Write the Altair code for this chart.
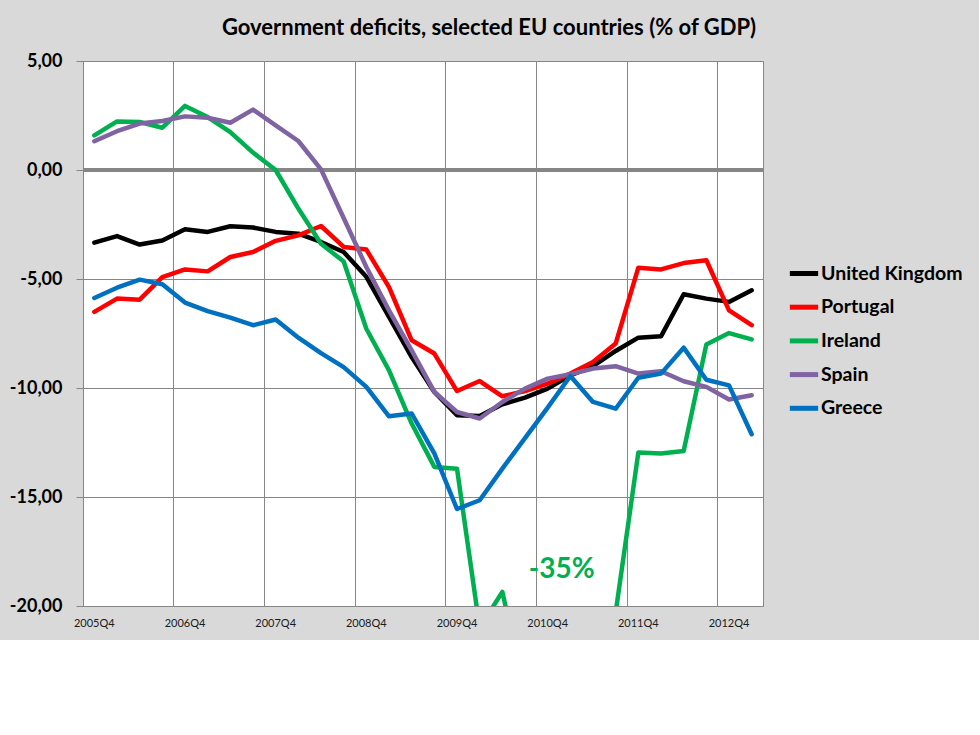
import altair as alt
import pandas as pd

quarters = ["2005Q4",
            "2006Q1", "2006Q2", "2006Q3", "2006Q4",
            "2007Q1", "2007Q2", "2007Q3", "2007Q4",
            "2008Q1", "2008Q2", "2008Q3", "2008Q4",
            "2009Q1", "2009Q2", "2009Q3", "2009Q4",
            "2010Q1", "2010Q2", "2010Q3", "2010Q4",
            "2011Q1", "2011Q2", "2011Q3", "2011Q4",
            "2012Q1", "2012Q2", "2012Q3", "2012Q4",
            "2013Q1"]

series_names = ["United Kingdom", "Portugal", "Ireland", "Spain", "Greece"]
series_colors = ["#000000", "#ff0000", "#00b050", "#8064a2", "#0070c0"]

uk = [-3.33, -3.03, -3.42, -3.23, -2.72, -2.84, -2.58, -2.64, -2.84, -2.92,
      -3.30, -3.76, -4.90, -6.74, -8.58, -10.18, -11.25, -11.28, -10.75, -10.44,
      -10.03, -9.42, -9.00, -8.30, -7.69, -7.63, -5.70, -5.90, -6.05, -5.52]
pt = [-6.51, -5.90, -5.95, -4.91, -4.56, -4.65, -3.99, -3.76, -3.25, -3.00,
      -2.57, -3.53, -3.65, -5.37, -7.81, -8.42, -10.14, -9.68, -10.38, -10.14,
      -9.80, -9.34, -8.81, -7.96, -4.48, -4.56, -4.27, -4.14, -6.44, -7.12]
ie = [1.59, 2.23, 2.20, 1.94, 2.94, 2.43, 1.74, 0.80, 0.00, -1.77,
      -3.38, -4.20, -7.28, -9.19, -11.63, -13.62, -13.70, -21.00, -19.35, -24.00,
      -35.00, -35.00, -32.00, -20.30, -12.96, -13.00, -12.89, -8.00, -7.48, -7.77]
es = [1.32, 1.78, 2.13, 2.25, 2.46, 2.40, 2.17, 2.77, 2.05, 1.33,
      0.03, -2.20, -4.45, -6.44, -8.27, -10.18, -11.10, -11.40, -10.64, -10.03,
      -9.57, -9.37, -9.11, -9.00, -9.34, -9.23, -9.69, -9.95, -10.53, -10.33]
gr = [-5.87, -5.40, -5.03, -5.24, -6.08, -6.47, -6.77, -7.12, -6.86, -7.69,
      -8.40, -9.04, -9.95, -11.30, -11.17, -13.00, -15.55, -15.15, -13.70, -12.30,
      -10.90, -9.45, -10.64, -10.95, -9.53, -9.34, -8.15, -9.62, -9.88, -12.12]

y_ticks = [-20, -15, -10, -5, 0, 5]
year_ticks = quarters[::4]

annot_quarter = ["2010Q4"]
annot_value = [-18.36]
annot_text = ["-35%"]

title_text = "Government deficits, selected EU countries (% of GDP)"

rows = []
for name, vals in zip(series_names, [uk, pt, ie, es, gr]):
    for q, v in zip(quarters, vals):
        rows.append({"quarter": q, "country": name, "value": v})
df = pd.DataFrame(rows)

annot_df = pd.DataFrame({"quarter": annot_quarter, "value": annot_value, "label": annot_text})

FONT = "Lato"
GRID = "#868686"

x_scale = alt.Scale(type="band", domain=quarters, paddingInner=0, paddingOuter=0)
y_scale = alt.Scale(domain=[-20, 5], nice=False, zero=False)

y_axis = alt.Axis(values=y_ticks, labelExpr="datum.value + ',00'", title=None,
                  grid=True, gridColor=GRID, gridWidth=1,
                  ticks=True, tickSize=7, tickColor=GRID, domain=False,
                  labelFont=FONT, labelFontSize=18, labelFontWeight="bold",
                  labelColor="#000000", labelPadding=14)

zero_line = alt.Chart(df).mark_rule(color=GRID, strokeWidth=4).encode(
    y=alt.datum(0, scale=y_scale, axis=y_axis)
)

lines = alt.Chart(df).mark_line(strokeWidth=4.5, clip=True, strokeCap="round",
                                strokeJoin="round").encode(
    x=alt.X("quarter:O", scale=x_scale, bandPosition=0.5,
            axis=alt.Axis(values=year_ticks, orient="bottom", title=None, grid=False,
                          ticks=False, domain=False, labelAngle=0, labelFont=FONT,
                          labelFontSize=11, labelColor="#1a1a1a", labelPadding=11,
                          bandPosition=0.5)),
    y=alt.Y("value:Q", scale=y_scale, axis=y_axis),
    color=alt.Color("country:N", sort=series_names,
                    scale=alt.Scale(domain=series_names, range=series_colors),
                    legend=alt.Legend(orient="none", legendX=704, legendY=195.5,
                                      title=None, symbolType="stroke",
                                      symbolStrokeWidth=5, symbolSize=800,
                                      labelFont=FONT, labelFontSize=19.5,
                                      labelFontWeight="bold", labelColor="#000000",
                                      labelOffset=0, rowPadding=6.7, padding=0)),
    detail="country:N",
)

annot = alt.Chart(annot_df).mark_text(color="#00b050", font=FONT, fontSize=28,
                                      fontWeight="bold", baseline="middle",
                                      align="center", dx=14).encode(
    x=alt.X("quarter:O", scale=x_scale, bandPosition=0.5,
            axis=alt.Axis(values=year_ticks, orient="top", title=None, grid=True,
                          gridColor=GRID, gridWidth=1, labels=False, ticks=False,
                          domain=False, bandPosition=0)),
    y=alt.Y("value:Q", scale=y_scale, axis=y_axis),
    text="label:N",
)

chart = alt.layer(zero_line, lines, annot).resolve_axis(x="independent").properties(
    width=680, height=545,
    title=alt.TitleParams(title_text, font=FONT, fontSize=22, fontWeight="bold",
                          color="#000000", anchor="middle", dx=66, offset=12),
    autosize=alt.AutoSizeParams(type="none"),
    padding={"left": 83, "top": 61, "right": 216, "bottom": 34},
    background="#d9d9d9",
).configure_view(stroke=GRID, fill="#ffffff")

chart.save("out.html", embed_options={"renderer": "svg", "actions": False})
